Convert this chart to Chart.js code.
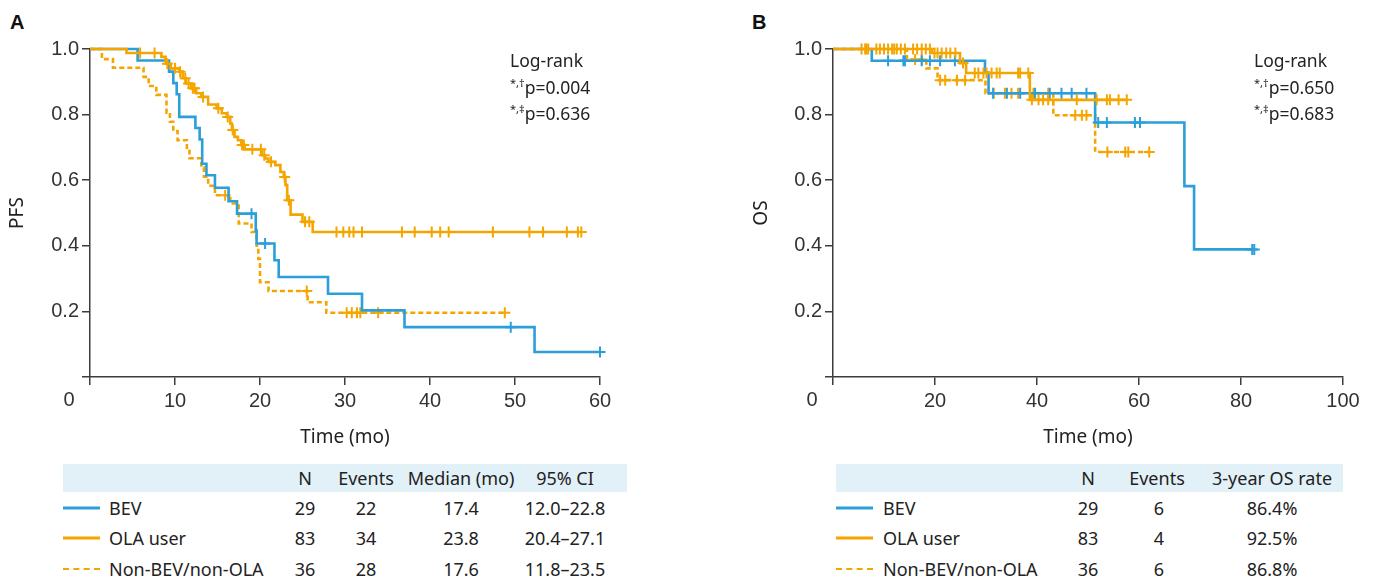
<!DOCTYPE html>
<html>
<head>
<meta charset="utf-8">
<script src="https://cdn.jsdelivr.net/npm/chart.js@4.4.1/dist/chart.umd.min.js"></script>
<style>
  body { margin: 0; background: #fff; width: 1376px; height: 579px; position: relative; overflow: hidden;
         font-family: "Noto Sans", sans-serif; color: #222; }
  canvas { position: absolute; top: 0; }
  #chartA { left: 0; }
  #chartB { left: 744px; }
  .panel { position: absolute; font: bold 20px "Liberation Sans", Arial, sans-serif; color: #111; }
  .logrank { position: absolute; font-size: 17.5px; line-height: 26.5px; white-space: nowrap; }
  .logrank sup { font-size: 11px; vertical-align: 7px; line-height: 0; }
  .band { position: absolute; top: 464px; height: 28px; background: #e2f0f7; }
  .cell { position: absolute; font-size: 18px; line-height: 22px; white-space: nowrap; transform: translate(-50%, -50%); }
  .cell.left { transform: translate(0, -50%); }
  .swatch { position: absolute; width: 37px; height: 0; border-top-width: 3px; border-top-style: solid; transform: translateY(-50%); }
</style>
</head>
<body>
<div class="panel" style="left:10px;top:11px">A</div>
<div class="panel" style="left:752px;top:11px">B</div>
<canvas id="chartA" width="640" height="450"></canvas>
<canvas id="chartB" width="632" height="450"></canvas>
<div class="logrank" style="left:510px;top:47px">Log-rank<br><sup>*,†</sup>p=0.004<br><sup>*,‡</sup>p=0.636</div>
<div class="logrank" style="left:1254px;top:47px">Log-rank<br><sup>*,†</sup>p=0.650<br><sup>*,‡</sup>p=0.683</div>
<div id="tables"></div>

<script>
// Kleuren en lettertypen
const BLUE = '#2b9fd9';
const ORANGE = '#f5a500';
const AXIS = '#3c3c3c';
const TICK_FONT = { family: '"Liberation Sans", Arial, sans-serif', size: 20 };
const TITLE_FONT = { family: '"Noto Sans", sans-serif', size: 19 };

// ---- A: PFS ----
const pfsBevTime = [5.6, 9.3, 9.8, 10.2, 10.5, 12.4, 12.9, 13.2, 13.7, 14.7, 16.3, 17.3, 19.5, 19.6, 21.7, 22.2, 28.0, 32.0, 37.0, 52.3];
const pfsBevSurv = [0.965, 0.931, 0.896, 0.862, 0.793, 0.759, 0.724, 0.650, 0.615, 0.577, 0.536, 0.498, 0.447, 0.407, 0.356, 0.305, 0.254, 0.203, 0.152, 0.076];
const pfsBevCensor = [19.0, 20.6, 49.5, 60.0];

const pfsOlaTime = [4.3, 8.4, 8.9, 9.5, 10.5, 10.9, 11.3, 11.9, 12.5, 13.1, 13.9, 14.9, 15.5, 16.1, 16.5, 16.7, 17.0, 17.4, 17.8, 18.2, 20.2, 20.6, 21.0, 21.8, 22.4, 22.8, 23.0, 23.2, 23.6, 25.0, 26.2];
const pfsOlaSurv = [0.988, 0.976, 0.955, 0.941, 0.931, 0.911, 0.895, 0.880, 0.865, 0.854, 0.831, 0.819, 0.804, 0.793, 0.773, 0.753, 0.732, 0.722, 0.707, 0.694, 0.676, 0.666, 0.656, 0.646, 0.625, 0.610, 0.585, 0.539, 0.495, 0.473, 0.442];
const pfsOlaCensor = [5.9, 7.6, 9.1, 10.0, 10.6, 11.2, 11.6, 12.1, 12.3, 13.3, 15.1, 16.2, 16.8, 17.9, 18.1, 19.1, 20.1, 20.5, 21.3, 22.9, 23.4, 25.3, 25.8,
                      29.0, 29.8, 30.5, 31.0, 32.0, 36.7, 38.2, 40.2, 41.2, 42.2, 47.4, 51.7, 53.3, 56.1, 57.4, 57.8];

const pfsNonTime = [1.4, 2.7, 6.3, 6.9, 7.8, 9.0, 9.4, 9.8, 10.3, 11.4, 11.7, 13.1, 13.4, 13.9, 14.7, 16.5, 17.5, 19.0, 19.6, 19.8, 20.0, 21.0, 25.6, 27.8];
const pfsNonSurv = [0.969, 0.943, 0.915, 0.887, 0.860, 0.806, 0.778, 0.750, 0.722, 0.694, 0.667, 0.639, 0.611, 0.583, 0.554, 0.529, 0.468, 0.442, 0.400, 0.360, 0.289, 0.262, 0.228, 0.196];
const pfsNonCensor = [15.9, 25.5, 30.2, 30.8, 31.4, 31.8, 33.9, 48.8];

const pfsTicksX = [0, 10, 20, 30, 40, 50, 60];

// ---- B: OS ----
const osBevTime = [7.6, 29.8, 30.5, 51.4, 68.9, 70.8];
const osBevSurv = [0.964, 0.928, 0.865, 0.776, 0.582, 0.389];
const osBevCensor = [10.8, 13.8, 14.1, 17.4, 19.0, 21.0, 23.9, 31.4, 34.1, 36.7, 39.6, 42.5, 44.8, 46.8, 49.7, 52.0, 53.7, 59.2, 60.2, 82.2, 82.6];

const osOlaTime = [19.4, 24.9, 26.1, 38.6];
const osOlaSurv = [0.988, 0.957, 0.927, 0.845];
const osOlaCensor = [5.6, 6.3, 6.9, 9.2, 10.0, 10.8, 11.6, 12.5, 13.3, 14.1, 15.7, 16.5, 17.4, 18.2, 19.0,
                     19.9, 20.5, 21.3, 22.2, 23.0, 24.0, 25.5, 27.8, 28.5, 29.5, 30.1, 31.1, 32.1, 32.7, 36.3, 36.7, 38.3,
                     39.0, 40.3, 41.2, 42.2, 47.8, 51.7, 53.7, 54.3, 56.0, 57.6];

const osNonTime = [14.5, 18.3, 20.5, 29.9, 43.2, 51.4];
const osNonSurv = [0.968, 0.941, 0.905, 0.865, 0.798, 0.686];
const osNonCensor = [6.5, 8.5, 12.0, 16.1, 17.4, 21.0, 22.0, 24.3, 25.9, 31.5, 33.7, 35.0, 36.3, 39.3, 42.2, 47.5, 48.8, 49.7, 53.8, 57.3, 57.9, 62.0];

const osTicksX = [0, 20, 40, 60, 80, 100];
const survTicks = [0, 0.2, 0.4, 0.6, 0.8, 1.0];

// ---- Tabellen ----
const groups = ['BEV', 'OLA user', 'Non-BEV/non-OLA'];
const groupN = [29, 83, 36];
const pfsEvents = [22, 34, 28];
const pfsMedian = ['17.4', '23.8', '17.6'];
const pfsCI = ['12.0–22.8', '20.4–27.1', '11.8–23.5'];
const osEvents = [6, 4, 6];
const osRate = ['86.4%', '92.5%', '86.8%'];

// Stapcurve (Kaplan-Meier) vanaf (0, 1)
function stepPoints(times, surv, censor) {
    const pts = [{ x: 0, y: 1 }];
    times.forEach((t, i) => pts.push({ x: t, y: surv[i] }));
    const lastC = Math.max(...censor);
    if (lastC > times[times.length - 1]) pts.push({ x: lastC, y: surv[surv.length - 1] });
    return pts;
}

function survAt(times, surv, t) {
    let s = 1;
    times.forEach((tt, i) => { if (tt <= t) s = surv[i]; });
    return s;
}

function censorPoints(times, surv, censor) {
    return censor.map(c => ({ x: c, y: survAt(times, surv, c) }));
}

function curveSets(times, surv, censor, color, dashed, order) {
    return [
        {
            data: censorPoints(times, surv, censor),
            showLine: false,
            pointStyle: 'cross',
            pointRadius: 5.5,
            pointBorderWidth: 2,
            pointBorderColor: color,
            borderColor: color,
            clip: false,
            order: order
        },
        {
            data: stepPoints(times, surv, censor),
            stepped: true,
            borderColor: color,
            borderWidth: 2.6,
            borderDash: dashed ? [5, 3] : [],
            pointRadius: 0,
            fill: false,
            clip: false,
            order: order + 1
        }
    ];
}

const originLabel = {
    id: 'originLabel',
    afterDraw(chart) {
        const { ctx, chartArea } = chart;
        ctx.save();
        ctx.font = `${TICK_FONT.size}px ${TICK_FONT.family}`;
        ctx.fillStyle = '#333';
        ctx.textAlign = 'center';
        ctx.textBaseline = 'middle';
        ctx.fillText('0', chartArea.left - 21, chartArea.bottom + 23);
        ctx.restore();
    }
};

function makePanel(id, opts) {
    const ctx = document.getElementById(id).getContext('2d');
    return new Chart(ctx, {
        type: 'line',
        data: { datasets: opts.datasets },
        options: {
            responsive: false,
            animation: false,
            devicePixelRatio: 1,
            layout: { padding: { left: 0, right: opts.padRight, top: 49, bottom: 0 } },
            plugins: { legend: { display: false }, tooltip: { enabled: false } },
            scales: {
                x: {
                    type: 'linear',
                    min: 0,
                    max: opts.xMax,
                    afterBuildTicks: s => { s.ticks = opts.xTicks.map(v => ({ value: v })); },
                    afterFit: s => { s.height = 73; },
                    ticks: {
                        font: TICK_FONT, color: '#333', padding: 4, maxRotation: 0,
                        callback: v => v === 0 ? '' : v
                    },
                    grid: { drawOnChartArea: false, drawTicks: true, tickLength: 8, color: AXIS, lineWidth: 1.5 },
                    border: { display: true, color: AXIS, width: 1.5 },
                    title: { display: true, text: 'Time (mo)', font: TITLE_FONT, color: '#222', padding: { top: 0, bottom: 1 } }
                },
                y: {
                    min: 0,
                    max: 1,
                    afterBuildTicks: s => { s.ticks = survTicks.map(v => ({ value: v })); },
                    afterFit: s => { s.width = opts.yWidth; },
                    ticks: {
                        font: TICK_FONT, color: '#333', padding: 3,
                        callback: v => v === 0 ? '' : v.toFixed(1)
                    },
                    grid: { drawOnChartArea: false, drawTicks: true, tickLength: 8, color: AXIS, lineWidth: 1.5 },
                    border: { display: true, color: AXIS, width: 1.5 },
                    title: { display: true, text: opts.yTitle, font: TITLE_FONT, color: '#222', padding: { top: 6, bottom: 0 } }
                }
            }
        },
        plugins: [originLabel]
    });
}

makePanel('chartA', {
    xMax: 60, xTicks: pfsTicksX, yTitle: 'PFS', yWidth: 90, padRight: 40,
    datasets: [
        ...curveSets(pfsOlaTime, pfsOlaSurv, pfsOlaCensor, ORANGE, false, 1),
        ...curveSets(pfsBevTime, pfsBevSurv, pfsBevCensor, BLUE, false, 3),
        ...curveSets(pfsNonTime, pfsNonSurv, pfsNonCensor, ORANGE, true, 5)
    ]
});

makePanel('chartB', {
    xMax: 100, xTicks: osTicksX, yTitle: 'OS', yWidth: 89, padRight: 33,
    datasets: [
        ...curveSets(osOlaTime, osOlaSurv, osOlaCensor, ORANGE, false, 1),
        ...curveSets(osBevTime, osBevSurv, osBevCensor, BLUE, false, 3),
        ...curveSets(osNonTime, osNonSurv, osNonCensor, ORANGE, true, 5)
    ]
});

// Tabellen onder de grafieken
const tables = document.getElementById('tables');
const rowY = [508, 538, 569];
const headY = 478;
const swatchColor = [BLUE, ORANGE, ORANGE];
const swatchStyle = ['solid', 'solid', 'dashed'];

function addCell(text, x, y, left) {
    const d = document.createElement('div');
    d.className = left ? 'cell left' : 'cell';
    d.style.left = x + 'px';
    d.style.top = y + 'px';
    d.textContent = text;
    tables.appendChild(d);
}

function buildTable(x0, width, labelX, headers, columns) {
    const band = document.createElement('div');
    band.className = 'band';
    band.style.left = x0 + 'px';
    band.style.width = width + 'px';
    tables.appendChild(band);

    headers.forEach(h => addCell(h.text, h.x, headY, false));
    groups.forEach((g, i) => {
        const sw = document.createElement('div');
        sw.className = 'swatch';
        sw.style.left = x0 + 'px';
        sw.style.top = rowY[i] + 'px';
        sw.style.borderTopColor = swatchColor[i];
        sw.style.borderTopStyle = swatchStyle[i];
        if (swatchStyle[i] === 'dashed') sw.style.borderTopWidth = '2px';
        tables.appendChild(sw);
        addCell(g, labelX, rowY[i], true);
        columns.forEach(c => addCell(String(c.values[i]), c.x, rowY[i], false));
    });
}

buildTable(63, 564, 109,
    [{ text: 'N', x: 305 }, { text: 'Events', x: 366 }, { text: 'Median (mo)', x: 461 }, { text: '95% CI', x: 565 }],
    [{ values: groupN, x: 305 }, { values: pfsEvents, x: 366 }, { values: pfsMedian, x: 461 }, { values: pfsCI, x: 565 }]);

buildTable(836, 507, 883,
    [{ text: 'N', x: 1088 }, { text: 'Events', x: 1157 }, { text: '3-year OS rate', x: 1272 }],
    [{ values: groupN, x: 1088 }, { values: osEvents, x: 1159 }, { values: osRate, x: 1272 }]);
</script>
</body>
</html>
